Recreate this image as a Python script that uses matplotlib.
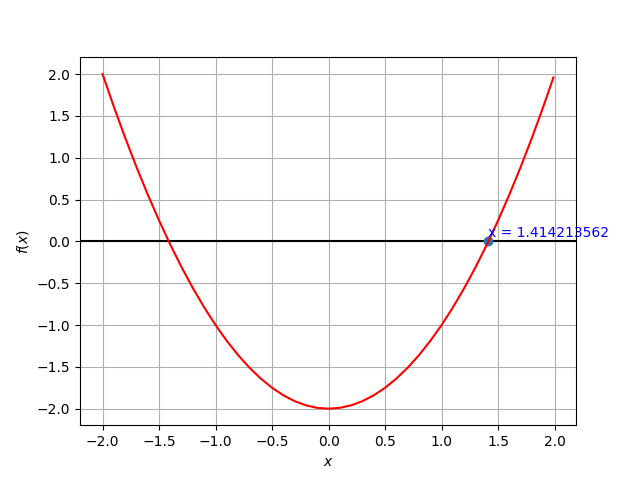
import matplotlib
matplotlib.use("Agg")
import matplotlib.pyplot as plt

x_vals = [-2.0, -1.9, -1.8, -1.7, -1.6, -1.5, -1.4, -1.3, -1.2, -1.1, -1.0,
          -0.9, -0.8, -0.7, -0.6, -0.5, -0.4, -0.3, -0.2, -0.1, 0.0,
          0.1, 0.2, 0.3, 0.4, 0.5, 0.6, 0.7, 0.8, 0.9, 1.0,
          1.1, 1.2, 1.3, 1.4, 1.5, 1.6, 1.7, 1.8, 1.9, 1.99]
y_vals = [2.0, 1.61, 1.24, 0.89, 0.56, 0.25, -0.04, -0.31, -0.56, -0.79, -1.0,
          -1.19, -1.36, -1.51, -1.64, -1.75, -1.84, -1.91, -1.96, -1.99, -2.0,
          -1.99, -1.96, -1.91, -1.84, -1.75, -1.64, -1.51, -1.36, -1.19, -1.0,
          -0.79, -0.56, -0.31, -0.04, 0.25, 0.56, 0.89, 1.24, 1.61, 1.9601]
root_x = 1.414213562
root_y = 0.0
root_label = "x = 1.414213562"

fig, ax = plt.subplots(figsize=(6.4, 4.78), dpi=100)
ax.plot(x_vals, y_vals, color="red", zorder=3)
ax.axhline(0, color="black", zorder=2)
ax.scatter([root_x], [root_y], zorder=2.5)
ax.annotate(root_label, (root_x, root_y), xytext=(0, 3), textcoords="offset points",
            color="blue", annotation_clip=False)
ax.grid(True)
ax.set_xlabel("$x$")
ax.set_ylabel("$f(x)$")
fig.savefig("out.png", dpi=100)
